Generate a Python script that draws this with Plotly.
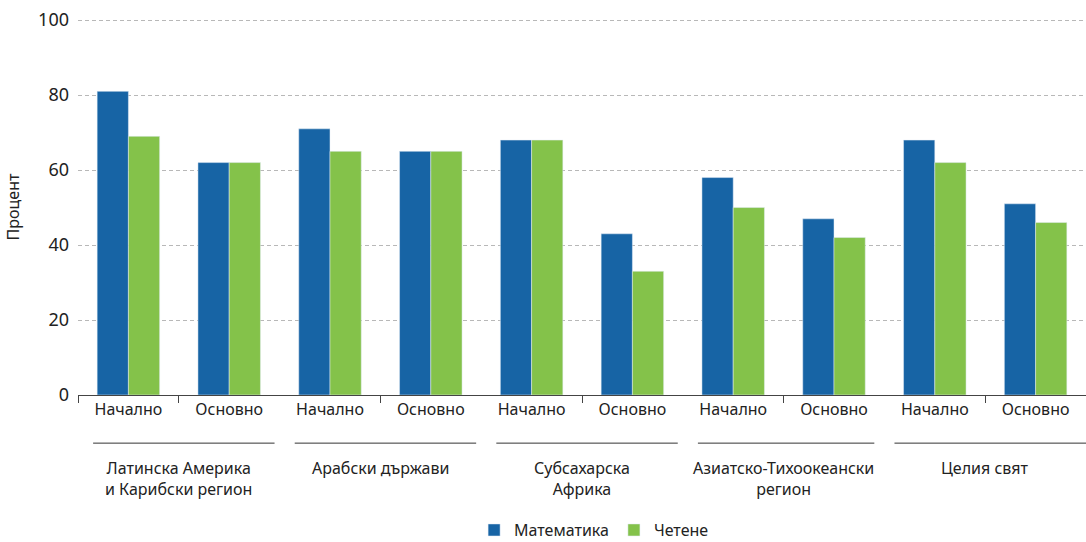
import plotly.graph_objects as go

categories = ["Начално", "Основно"] * 5
groups = ["Латинска Америка<br>и Карибски регион", "Арабски държави", "Субсахарска<br>Африка",
          "Азиатско-Тихоокеански<br>регион", "Целия свят"]
math = [81, 62, 71, 65, 68, 43, 58, 47, 68, 51]
reading = [69, 62, 65, 65, 68, 33, 50, 42, 62, 46]
y_ticks = [0, 20, 40, 60, 80, 100]

BLUE = "#1764a5"
GREEN = "#84c24a"
FONT = "Noto Sans"
TXT = "#222222"

x = list(range(len(categories)))
fig = go.Figure()
fig.add_bar(x=x, y=math, name="Математика", marker_color=BLUE)
fig.add_bar(x=x, y=reading, name="Четене", marker_color=GREEN)

fig.update_layout(
    width=1086, height=542,
    margin=dict(l=78, r=0, t=19, b=147, autoexpand=False),
    paper_bgcolor="white", plot_bgcolor="white",
    barmode="group", bargap=0.38, bargroupgap=0,
    font=dict(family=FONT, size=16, color=TXT),
    showlegend=True,
    legend=dict(orientation="h", x=0.512, xanchor="center", yref="container", y=0.022,
                yanchor="middle", font=dict(size=16), traceorder="normal"),
)
fig.update_xaxes(
    range=[-0.5, 9.5], tickmode="array", tickvals=x, ticktext=categories,
    ticks="", showgrid=False, showline=True, linecolor="#444444", linewidth=1,
    tickfont=dict(size=16, color=TXT), zeroline=False,
    minor=dict(tickmode="array", tickvals=[-0.5, 0.5, 2.5, 4.5, 6.5, 8.5],
               ticks="outside", ticklen=7, tickcolor="#444444", tickwidth=1, showgrid=False),
)
fig.update_yaxes(
    range=[0, 100.3], tickvals=y_ticks, showgrid=True, gridcolor="#b8b8b8", griddash="4px,3px",
    gridwidth=1, zeroline=False, ticks="", tickfont=dict(size=18, color=TXT),
    ticklabelstandoff=8,
    title=dict(text="Процент", font=dict(size=16, color=TXT), standoff=14),
)

spans = [(-0.35, 1.45), (1.65, 3.45), (3.65, 5.45), (5.65, 7.4), (7.6, 9.5)]
for i, (g, (a, b)) in enumerate(zip(groups, spans)):
    fig.add_shape(type="line", xref="x", yref="paper", x0=a, x1=b, y0=-0.128, y1=-0.128,
                  line=dict(color="#333333", width=1))
    fig.add_annotation(xref="x", yref="paper", x=2 * i + 0.5, y=-0.16, yanchor="top",
                       text=g, showarrow=False, font=dict(size=16, color=TXT), align="center")

fig.write_html("out.html")
